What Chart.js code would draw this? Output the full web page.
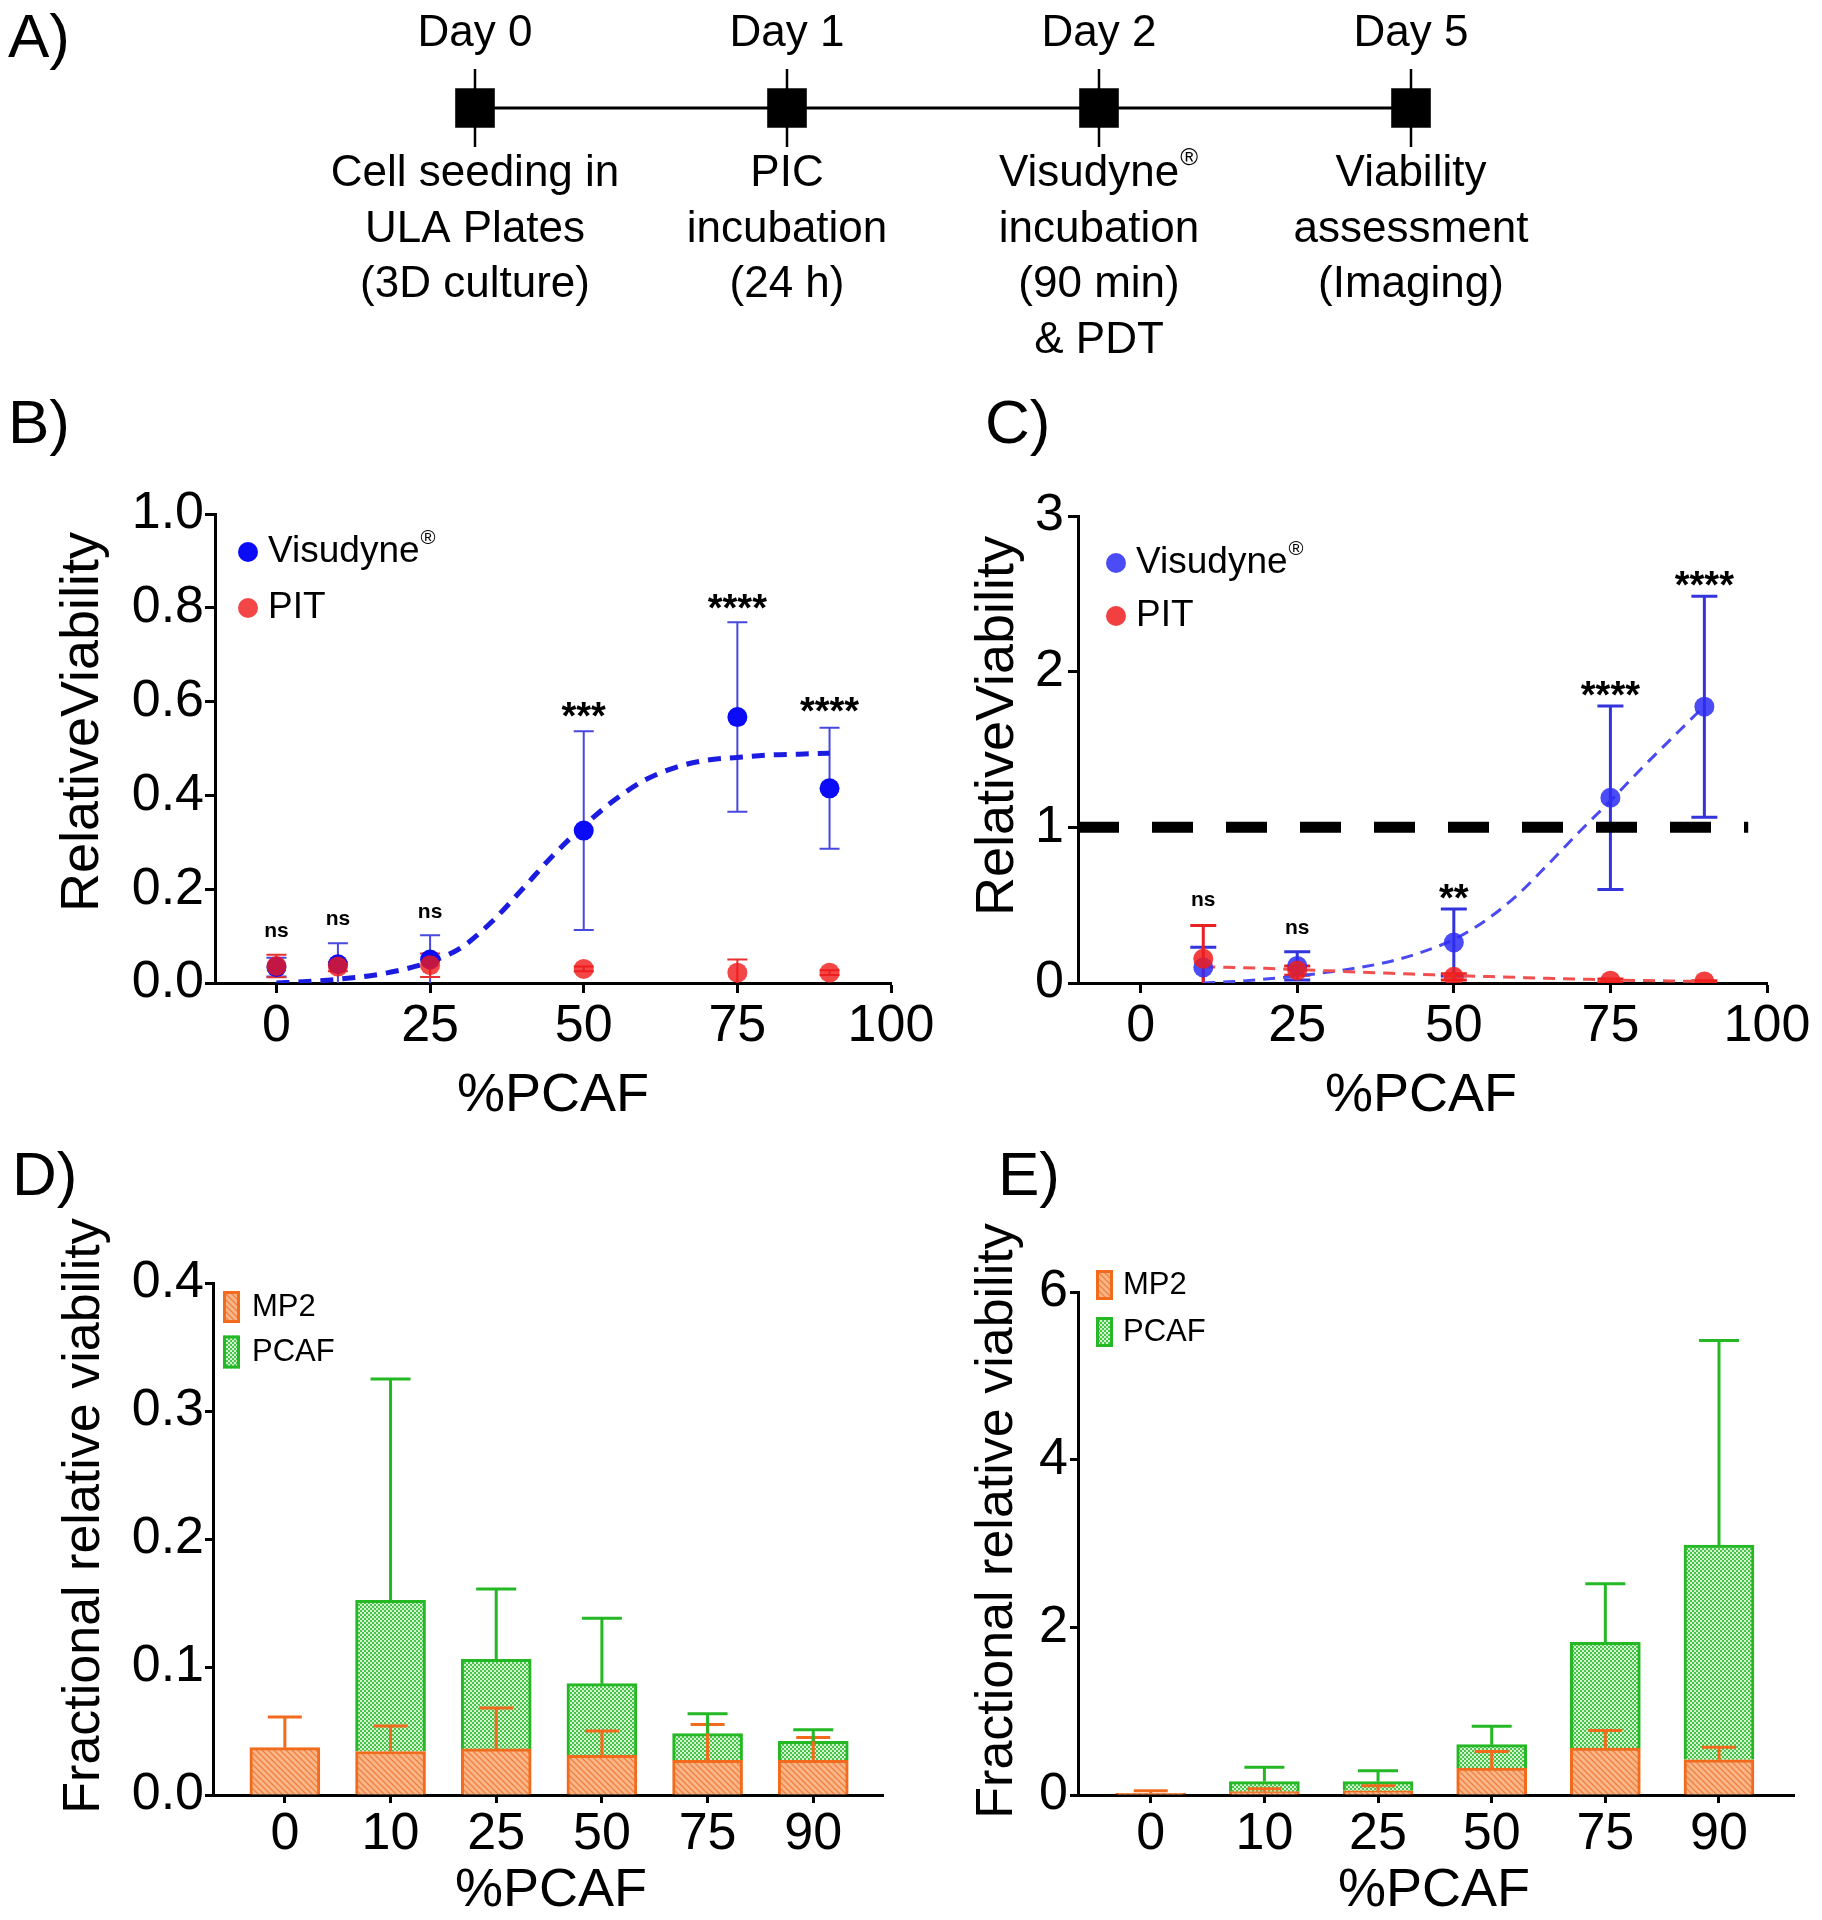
<!DOCTYPE html>
<html>
<head>
<meta charset="utf-8">
<title>PCAF viability</title>
<script src="https://cdn.jsdelivr.net/npm/chart.js@4.4.1/dist/chart.umd.min.js"></script>
<style>
  body { margin: 0; background: #fff; }
  #page { position: relative; width: 1822px; height: 1920px; background: #fff; }
  #page canvas { position: absolute; left: 0; top: 0; }
</style>
</head>
<body>
<div id="page">
  <canvas id="chartA" width="1822" height="1920"></canvas>
  <canvas id="chartB" width="1822" height="1920"></canvas>
  <canvas id="chartC" width="1822" height="1920"></canvas>
  <canvas id="chartD" width="1822" height="1920"></canvas>
  <canvas id="chartE" width="1822" height="1920"></canvas>
</div>
<script>
// ---------- data ----------
const timelineDays = ["Day 0", "Day 1", "Day 2", "Day 5"];
const timelineSteps = [
  ["Cell seeding in", "ULA Plates", "(3D culture)"],
  ["PIC", "incubation", "(24 h)"],
  ["Visudyne®", "incubation", "(90 min)", "& PDT"],
  ["Viability", "assessment", "(Imaging)"]
];

// B
const pcafB = [0, 10, 25, 50, 75, 90];
const visudyneB = [0.034, 0.040, 0.050, 0.325, 0.567, 0.415];
const visudyneSdB = [0.020, 0.045, 0.052, 0.212, 0.202, 0.129];
const pitB = [0.036, 0.035, 0.038, 0.030, 0.022, 0.022];
const pitSdB = [0.024, 0.010, 0.025, 0.005, 0.028, 0.005];
const fitXB = [0, 5, 10, 15, 20, 25, 30, 35, 40, 45, 50, 55, 60, 65, 70, 75, 80, 85, 90];
const fitYB = [0, 0.003, 0.008, 0.015, 0.027, 0.045, 0.075, 0.13, 0.2, 0.272, 0.335, 0.39, 0.433, 0.46, 0.475, 0.481, 0.486, 0.488, 0.49];
const sigB = ["ns", "ns", "ns", "***", "****", "****"];
const sigAtB = [0.109, 0.136, 0.15, 0.59, 0.82, 0.60];
const yTicksB = [0, 0.2, 0.4, 0.6, 0.8, 1.0];

// C
const pcafC = [10, 25, 50, 75, 90];
const visudyneC = [0.10, 0.11, 0.26, 1.19, 1.775];
const visudyneSdC = [0.13, 0.09, 0.215, 0.59, 0.71];
const pitC = [0.156, 0.08, 0.04, 0.015, 0.01];
const pitSdC = [0.214, 0.03, 0.02, 0.01, 0.005];
const fitXC = [10, 15, 20, 25, 30, 35, 40, 45, 50, 55, 60, 65, 70, 75, 80, 85, 90];
const fitVisC = [0, 0.01, 0.025, 0.045, 0.07, 0.1, 0.14, 0.2, 0.28, 0.4, 0.56, 0.76, 0.97, 1.17, 1.38, 1.58, 1.78];
const fitPitC = [0.105, 0.1, 0.094, 0.086, 0.078, 0.07, 0.062, 0.055, 0.048, 0.042, 0.036, 0.03, 0.025, 0.02, 0.016, 0.013, 0.01];
const refXC = [-10, 97];
const refYC = [1, 1];
const sigC = ["ns", "ns", "**", "****", "****"];
const sigAtC = [0.53, 0.35, 0.61, 1.91, 2.62];
const yTicksC = [0, 1, 2, 3];
const xTicksBC = [0, 25, 50, 75, 100];

// D and E
const groupsDE = ["0", "10", "25", "50", "75", "90"];
const mp2D = [0.037, 0.034, 0.036, 0.031, 0.027, 0.027];
const mp2SdD = [0.024, 0.020, 0.032, 0.019, 0.028, 0.018];
const pcafD = [0, 0.118, 0.070, 0.056, 0.021, 0.015];
const pcafSdD = [0, 0.173, 0.055, 0.051, 0.0155, 0.009];
const yTicksD = [0, 0.1, 0.2, 0.3, 0.4];

const mp2E = [0.02, 0.04, 0.05, 0.32, 0.56, 0.42];
const mp2SdE = [0.03, 0.035, 0.06, 0.2, 0.21, 0.15];
const pcafE = [0, 0.12, 0.11, 0.28, 1.26, 2.56];
const pcafSdE = [0, 0.17, 0.13, 0.22, 0.70, 2.44];
const yTicksE = [0, 2, 4, 6];

// ---------- helpers ----------
const FONT = '"Liberation Sans", Arial, Helvetica, sans-serif';
const PAGE_W = 1822, PAGE_H = 1920;
const BLUE = "#0b0bf5";
const RED = "rgba(240,25,25,0.8)";
const BLUE_C = "rgba(45,45,245,0.85)";
const RED_C = "rgba(240,30,30,0.85)";
const ORANGE = "#f26b1d";
const GREEN = "#24b824";

function setFont(ctx, size, bold) {
  ctx.font = (bold ? "bold " : "") + size + "px " + FONT;
}

// text where "®" is set as a small superscript
function richText(ctx, text, x, y, size, align, bold) {
  const parts = text.split("®");
  setFont(ctx, size, bold);
  const w0 = ctx.measureText(parts[0]).width;
  let wr = 0, w1 = 0;
  if (parts.length > 1) {
    setFont(ctx, size * 0.55);
    wr = ctx.measureText("®").width + 2;
    setFont(ctx, size, bold);
    w1 = ctx.measureText(parts[1]).width;
  }
  const total = w0 + wr + w1;
  const sx = align === "center" ? x - total / 2 : (align === "right" ? x - total : x);
  ctx.textAlign = "left";
  setFont(ctx, size, bold);
  ctx.fillText(parts[0], sx, y);
  if (parts.length > 1) {
    setFont(ctx, size * 0.55);
    ctx.fillText("®", sx + w0 + 1, y - size * 0.36);
    setFont(ctx, size, bold);
    ctx.fillText(parts[1], sx + w0 + wr, y);
  }
}

function makePattern(kind) {
  const c = document.createElement("canvas");
  const g = c.getContext("2d");
  if (kind === "hatch") {
    c.width = 6; c.height = 6;
    g.fillStyle = "#f9b688";
    g.fillRect(0, 0, 6, 6);
    g.strokeStyle = "#ef8041";
    g.lineWidth = 1.3;
    g.beginPath();
    g.moveTo(0, 0); g.lineTo(6, 6);
    g.moveTo(-3, 3); g.lineTo(3, 9);
    g.moveTo(3, -3); g.lineTo(9, 3);
    g.stroke();
  } else {
    c.width = 4; c.height = 4;
    g.fillStyle = "#48c448";
    g.fillRect(0, 0, 4, 4);
    g.fillStyle = "#d2f2d2";
    g.fillRect(0, 0, 2, 2);
    g.fillRect(2, 2, 2, 2);
  }
  return g.createPattern(c, "repeat");
}
const hatchFill = makePattern("hatch");
const checkFill = makePattern("check");

function axisLook(tickLength, pad) {
  return {
    border: { display: true, color: "#000", width: 3 },
    grid: { display: true, drawOnChartArea: false, drawTicks: true, tickLength: tickLength,
            tickColor: "#000", tickWidth: 3, offset: false },
    ticks: { color: "#000", font: { family: FONT, size: 52 }, padding: pad,
             autoSkip: false, maxRotation: 0, minRotation: 0 }
  };
}

function xAxis(min, max, tickVals, fmt, tickLength, pad, stacked) {
  const a = axisLook(tickLength, pad);
  a.type = "linear";
  a.min = min;
  a.max = max;
  a.offset = false;
  a.stacked = !!stacked;
  a.afterBuildTicks = s => { s.ticks = tickVals.map(v => ({ value: v })); };
  a.afterFit = s => { s.height = 150; };
  a.ticks.callback = fmt;
  return a;
}

function yAxis(min, max, tickVals, fmt, tickLength, pad, stacked) {
  const a = axisLook(tickLength, pad);
  a.type = "linear";
  a.min = min;
  a.max = max;
  a.stacked = !!stacked;
  a.afterBuildTicks = s => { s.ticks = tickVals.map(v => ({ value: v })); };
  a.afterFit = s => { s.width = 200; };
  a.ticks.callback = fmt;
  return a;
}

function baseOptions(area, x, y) {
  return {
    responsive: false,
    animation: false,
    devicePixelRatio: 1,
    events: [],
    layout: { padding: { left: area.left - 200, top: area.top, right: PAGE_W - area.right,
                         bottom: PAGE_H - area.bottom - 150 } },
    scales: { x: x, y: y },
    plugins: { legend: { display: false }, tooltip: { enabled: false } }
  };
}

function errorBars(chart, layer) {
  const { ctx, chartArea, scales } = chart;
  const ys = scales.y;
  chart.data.datasets.forEach((ds, d) => {
    if (!ds.errors || (ds.errorLayer || "under") !== layer) return;
    const meta = chart.getDatasetMeta(d);
    ctx.save();
    ctx.beginPath();
    ctx.rect(chartArea.left, chartArea.top - 60, chartArea.right - chartArea.left,
             chartArea.bottom - chartArea.top + 60);
    ctx.clip();
    ctx.strokeStyle = ds.errorColor;
    ctx.lineWidth = ds.errorWidth;
    ctx.setLineDash([]);
    meta.data.forEach((el, i) => {
      const sd = ds.errors[i];
      if (!sd) return;
      const v = ys.getValueForPixel(el.y);
      const hi = ys.getPixelForValue(v + sd);
      const lo = ds.errorBoth ? ys.getPixelForValue(v - sd) : el.y;
      const hw = ds.capWidth / 2;
      ctx.beginPath();
      ctx.moveTo(el.x, lo); ctx.lineTo(el.x, hi);
      ctx.moveTo(el.x - hw, hi); ctx.lineTo(el.x + hw, hi);
      if (ds.errorBoth) { ctx.moveTo(el.x - hw, lo); ctx.lineTo(el.x + hw, lo); }
      ctx.stroke();
    });
    ctx.restore();
  });
}

function decor(cfg) {
  return {
    id: "decor",
    beforeDatasetsDraw(chart) { errorBars(chart, "under"); },
    afterDatasetsDraw(chart) { errorBars(chart, "over"); },
    afterDraw(chart) {
      const ctx = chart.ctx;
      ctx.save();
      ctx.fillStyle = "#000";
      // panel letter
      ctx.textBaseline = "alphabetic";
      richText(ctx, cfg.letter.text, cfg.letter.x, cfg.letter.y, 62, "left");
      // axis titles
      ctx.textBaseline = "middle";
      richText(ctx, cfg.xTitle.text, cfg.xTitle.x, cfg.xTitle.y, cfg.xTitle.size, "center");
      ctx.save();
      ctx.translate(cfg.yTitle.x, cfg.yTitle.y);
      ctx.rotate(-Math.PI / 2);
      richText(ctx, cfg.yTitle.text, 0, 0, cfg.yTitle.size, "center");
      ctx.restore();
      // significance marks
      if (cfg.sig) {
        ctx.textBaseline = "alphabetic";
        cfg.sig.xs.forEach((xv, i) => {
          const px = chart.scales.x.getPixelForValue(xv);
          const py = chart.scales.y.getPixelForValue(cfg.sig.at[i]);
          const lab = cfg.sig.labels[i];
          if (lab.startsWith("*")) richText(ctx, lab, px, py + 0.6 * 38, 38, "center", true);
          else richText(ctx, lab, px, py + 0.26 * 21, 21, "center", true);
        });
      }
      // legend
      ctx.textBaseline = "middle";
      (cfg.legend || []).forEach(it => {
        if (it.kind === "dot") {
          ctx.fillStyle = it.color;
          ctx.beginPath();
          ctx.arc(it.x, it.y, it.r, 0, Math.PI * 2);
          ctx.fill();
        } else {
          ctx.fillStyle = it.fill;
          ctx.fillRect(it.x, it.y - it.h / 2, it.w, it.h);
          ctx.strokeStyle = it.border;
          ctx.lineWidth = 3;
          ctx.strokeRect(it.x + 1.5, it.y - it.h / 2 + 1.5, it.w - 3, it.h - 3);
        }
        ctx.fillStyle = "#000";
        richText(ctx, it.text, it.textX, it.y, it.size, "left");
      });
      ctx.restore();
    }
  };
}

// ---------- A: timeline ----------
const timelineText = {
  id: "timelineText",
  afterDraw(chart) {
    const { ctx, scales: { x, y } } = chart;
    const y0 = y.getPixelForValue(0.5);
    ctx.save();
    ctx.fillStyle = "#000";
    ctx.textBaseline = "middle";
    timelineDays.forEach((d, i) => {
      const px = x.getPixelForValue(i);
      richText(ctx, d, px, y0 - 74, 44, "center");
      timelineSteps[i].forEach((line, k) => richText(ctx, line, px, y0 + 66 + k * 55.5, 44, "center"));
    });
    ctx.textBaseline = "alphabetic";
    richText(ctx, "A)", 8, 57, 62, "left");
    ctx.restore();
  }
};

new Chart(document.getElementById("chartA"), {
  type: "line",
  data: {
    datasets: [
      {
        data: timelineDays.map((d, i) => ({ x: i, y: 0.5 })),
        borderColor: "#000", borderWidth: 3,
        pointStyle: "rect", pointRadius: 28, pointBackgroundColor: "#000", pointBorderWidth: 0,
        clip: false
      },
      {
        data: timelineDays.map((d, i) => ({ x: i, y: 0.5 })),
        showLine: false,
        pointStyle: "line", pointRotation: 90, pointRadius: 39,
        pointBorderColor: "#000", pointBorderWidth: 2.5,
        clip: false
      }
    ]
  },
  options: {
    responsive: false, animation: false, devicePixelRatio: 1, events: [],
    layout: { padding: { left: 475, right: PAGE_W - 1411, top: 88, bottom: PAGE_H - 128 } },
    scales: {
      x: { type: "linear", min: 0, max: 3, display: false },
      y: { type: "linear", min: 0, max: 1, display: false }
    },
    plugins: { legend: { display: false }, tooltip: { enabled: false } }
  },
  plugins: [timelineText]
});

// ---------- B ----------
const areaB = { left: 215, top: 514, right: 891, bottom: 983 };
new Chart(document.getElementById("chartB"), {
  type: "scatter",
  data: {
    datasets: [
      {
        label: "fit",
        data: fitXB.map((x, i) => ({ x: x, y: fitYB[i] })),
        showLine: true, pointRadius: 0,
        borderColor: "#1c1ce0", borderWidth: 5, borderDash: [13, 9],
        cubicInterpolationMode: "monotone", order: 3
      },
      {
        label: "Visudyne®",
        data: pcafB.map((x, i) => ({ x: x, y: visudyneB[i] })),
        pointRadius: 10, pointBackgroundColor: BLUE, pointBorderWidth: 0,
        errors: visudyneSdB, errorBoth: true, errorColor: "#4848e0", errorWidth: 2, capWidth: 20,
        order: 2
      },
      {
        label: "PIT",
        data: pcafB.map((x, i) => ({ x: x, y: pitB[i] })),
        pointRadius: 10, pointBackgroundColor: RED, pointBorderWidth: 0,
        errors: pitSdB, errorBoth: true, errorColor: "#e83030", errorWidth: 2, capWidth: 20,
        order: 1
      }
    ]
  },
  options: baseOptions(areaB,
    xAxis(-10, 100, xTicksBC, v => String(v), 10, 2),
    yAxis(0, 1, yTicksB, v => v.toFixed(1), 10, 1)),
  plugins: [decor({
    letter: { text: "B)", x: 8, y: 443 },
    xTitle: { text: "%PCAF", x: 553, y: 1096, size: 54 },
    yTitle: { text: "RelativeViability", x: 83, y: 722, size: 54 },
    sig: { xs: pcafB, labels: sigB, at: sigAtB },
    legend: [
      { kind: "dot", color: BLUE, x: 248, y: 552, r: 10, text: "Visudyne®", textX: 268, size: 37 },
      { kind: "dot", color: RED, x: 248, y: 608, r: 10, text: "PIT", textX: 268, size: 37 }
    ]
  })]
});

// ---------- C ----------
const areaC = { left: 1078, top: 516, right: 1767, bottom: 983 };
new Chart(document.getElementById("chartC"), {
  type: "scatter",
  data: {
    datasets: [
      {
        label: "reference",
        data: refXC.map((x, i) => ({ x: x, y: refYC[i] })),
        showLine: true, pointRadius: 0,
        borderColor: "#000", borderWidth: 11, borderDash: [41, 33], order: 0
      },
      {
        label: "fit Visudyne",
        data: fitXC.map((x, i) => ({ x: x, y: fitVisC[i] })),
        showLine: true, pointRadius: 0,
        borderColor: "#4a4af0", borderWidth: 3, borderDash: [12, 8],
        cubicInterpolationMode: "monotone", order: 4
      },
      {
        label: "fit PIT",
        data: fitXC.map((x, i) => ({ x: x, y: fitPitC[i] })),
        showLine: true, pointRadius: 0,
        borderColor: "#f05050", borderWidth: 3, borderDash: [12, 8],
        cubicInterpolationMode: "monotone", order: 3
      },
      {
        label: "Visudyne®",
        data: pcafC.map((x, i) => ({ x: x, y: visudyneC[i] })),
        pointRadius: 10, pointBackgroundColor: BLUE_C, pointBorderWidth: 0,
        errors: visudyneSdC, errorBoth: true, errorColor: "#3434dc", errorWidth: 3, capWidth: 26,
        order: 2
      },
      {
        label: "PIT",
        data: pcafC.map((x, i) => ({ x: x, y: pitC[i] })),
        pointRadius: 10, pointBackgroundColor: RED_C, pointBorderWidth: 0,
        errors: pitSdC, errorBoth: true, errorColor: "#e82222", errorWidth: 3, capWidth: 26,
        order: 1
      }
    ]
  },
  options: baseOptions(areaC,
    xAxis(-10, 100, xTicksBC, v => String(v), 10, 2),
    yAxis(0, 3, yTicksC, v => String(v), 10, 4)),
  plugins: [decor({
    letter: { text: "C)", x: 985, y: 443 },
    xTitle: { text: "%PCAF", x: 1421, y: 1096, size: 54 },
    yTitle: { text: "RelativeViability", x: 998, y: 726, size: 54 },
    sig: { xs: pcafC, labels: sigC, at: sigAtC },
    legend: [
      { kind: "dot", color: BLUE_C, x: 1116, y: 563, r: 10, text: "Visudyne®", textX: 1136, size: 37 },
      { kind: "dot", color: RED_C, x: 1116, y: 616, r: 10, text: "PIT", textX: 1136, size: 37 }
    ]
  })]
});

// ---------- D and E: stacked bars ----------
function barSets(mp2, mp2Sd, pcaf, pcafSd) {
  return [
    {
      label: "MP2",
      data: groupsDE.map((g, i) => ({ x: i, y: mp2[i] })),
      backgroundColor: hatchFill, borderColor: ORANGE, borderWidth: 3, barThickness: 70,
      errors: mp2Sd, errorLayer: "over", errorColor: ORANGE, errorWidth: 3, capWidth: 34
    },
    {
      label: "PCAF",
      data: groupsDE.map((g, i) => ({ x: i, y: pcaf[i] })),
      backgroundColor: checkFill, borderColor: GREEN, borderWidth: 3, barThickness: 70,
      errors: pcafSd, errorLayer: "over", errorColor: GREEN, errorWidth: 3, capWidth: 40
    }
  ];
}

const areaD = { left: 213, top: 1283, right: 883, bottom: 1795 };
new Chart(document.getElementById("chartD"), {
  type: "bar",
  data: { datasets: barSets(mp2D, mp2SdD, pcafD, pcafSdD) },
  options: baseOptions(areaD,
    xAxis(-0.68, 5.66, groupsDE.map((g, i) => i), v => groupsDE[v], 8, 0, true),
    yAxis(0, 0.4, yTicksD, v => v.toFixed(1), 8, 1, true)),
  plugins: [decor({
    letter: { text: "D)", x: 12, y: 1195 },
    xTitle: { text: "%PCAF", x: 551, y: 1891, size: 54 },
    yTitle: { text: "Fractional relative viability", x: 85, y: 1516, size: 52 },
    legend: [
      { kind: "box", fill: hatchFill, border: ORANGE, x: 223, y: 1307, w: 17, h: 32, text: "MP2", textX: 252, size: 31 },
      { kind: "box", fill: checkFill, border: GREEN, x: 223, y: 1352, w: 17, h: 33, text: "PCAF", textX: 252, size: 31 }
    ]
  })]
});

const areaE = { left: 1078, top: 1292, right: 1794, bottom: 1795 };
new Chart(document.getElementById("chartE"), {
  type: "bar",
  data: { datasets: barSets(mp2E, mp2SdE, pcafE, pcafSdE) },
  options: baseOptions(areaE,
    xAxis(-0.64, 5.66, groupsDE.map((g, i) => i), v => groupsDE[v], 8, 0, true),
    yAxis(0, 6, yTicksE, v => String(v), 8, 2, true)),
  plugins: [decor({
    letter: { text: "E)", x: 998, y: 1195 },
    xTitle: { text: "%PCAF", x: 1434, y: 1891, size: 54 },
    yTitle: { text: "Fractional relative viability", x: 998, y: 1521, size: 52 },
    legend: [
      { kind: "box", fill: hatchFill, border: ORANGE, x: 1096, y: 1285, w: 17, h: 30, text: "MP2", textX: 1123, size: 31 },
      { kind: "box", fill: checkFill, border: GREEN, x: 1096, y: 1332, w: 17, h: 30, text: "PCAF", textX: 1123, size: 31 }
    ]
  })]
});
</script>
</body>
</html>
